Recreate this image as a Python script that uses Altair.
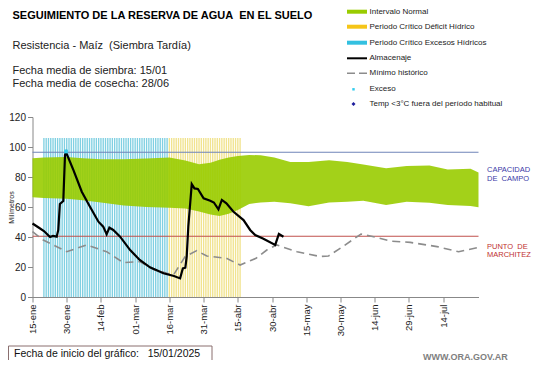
import altair as alt
import pandas as pd

# ---------------- data (x = days since 15/01/2025) ----------------
band_day = [0, 5, 15, 22, 30, 40, 50, 60, 67, 73, 78, 82, 86, 90, 95, 100, 106, 113, 121, 130, 138, 145, 155, 164, 174, 182, 192, 195.5]
band_hi = [92.5, 93, 93.3, 92.5, 91.8, 91.8, 92.3, 93, 91, 88.5, 89.5, 91.5, 93, 94, 94.7, 94.5, 93, 90, 90, 91.2, 90, 88.4, 85.8, 87.3, 87.7, 85, 85.5, 83]
band_lo = [66.5, 66, 65.5, 64.5, 63, 61, 60, 59.5, 59, 57, 55, 54, 55.5, 58, 62, 63, 63.5, 62.5, 60.5, 63, 63.5, 64.2, 61.3, 63.5, 62.9, 61.3, 60.7, 59.8]

alm_day = [0, 3, 5, 7.7, 9, 10.6, 11.3, 12, 13.5, 14.25, 14.7, 17.9, 21.6, 25.2, 28.9, 31, 32.5, 33.7, 35.4,
           38.4, 42.8, 47, 51.5, 57.4, 62, 64.7, 65.9, 67, 67.6, 68.3, 69.8, 71, 72.5, 75, 77.9, 79.5, 81.5,
           83, 85, 88, 92.5, 95.4, 97.6, 101, 106.4, 108, 110]
alm_val = [49, 46, 44, 40, 40.7, 40.2, 44.7, 62, 64, 94.7, 96.5, 84.7, 70.2, 60.2, 50.2, 46.9, 41.8, 46.2, 44.7,
           40.2, 31.3, 24.7, 19.8, 15.8, 14, 12.4, 19, 19.5, 27, 47, 75.3, 72.4, 72, 65.8, 64.2, 63, 58.4,
           64.7, 62.4, 57, 51.3, 44.7, 41.3, 39, 34.7, 42, 40.2]

min_day = [0, 4.7, 15, 23.8, 32.5, 39.8, 47, 53, 59, 61.8, 66.9, 72, 76.4, 85, 91, 95.4, 98, 102.7, 107, 116,
           126, 129.7, 136, 144, 149.5, 156.8, 165.6, 177.3, 186.8, 195.5]
min_val = [43.6, 38, 30.2, 34.7, 30.2, 22.9, 23.6, 18.4, 15.8, 14.7, 27, 30.9, 27.3, 25.8, 21.3, 24.2, 25.8, 31.3,
           34.7, 30.2, 27, 27.3, 33.6, 42, 40.2, 37.3, 36.4, 33.6, 30.2, 33.1]

exceso_day = [14.7]
exceso_val = [97]

periods = ["Excesos", "Deficit"]
period_start = [5, 60]
period_end = [59, 91]
period_color = ["#80d0e2", "#f1e38e"]
period_top = 106

capacidad = 96.5
marchitez = 40.5
x_end = 195.5

tick_days = [0, 15, 30, 45, 60, 75, 90, 105, 120, 135, 150, 165, 180]
tick_labels = ["15-ene", "30-ene", "14-feb", "01-mar", "16-mar", "31-mar", "15-abr",
               "30-abr", "15-may", "30-may", "14-jun", "29-jun", "14-jul"]
y_ticks = [0, 20, 40, 60, 80, 100, 120]

FONT = "Liberation Sans"
NB = "\u00a0"

# ---------------- tables ----------------
band_df = pd.DataFrame({"d": band_day, "hi": band_hi, "lo": band_lo})
alm_df = pd.DataFrame({"d": alm_day, "v": alm_val})
min_df = pd.DataFrame({"d": min_day, "v": min_val})
exc_df = pd.DataFrame({"d": exceso_day, "v": exceso_val})
stripe_rows = []
for name, s, e, c in zip(periods, period_start, period_end, period_color):
    for d in range(s, e + 1):
        stripe_rows.append({"d": d, "p": name, "c": c, "top": period_top})
stripe_df = pd.DataFrame(stripe_rows)
ref_df = pd.DataFrame({"v": [capacidad, marchitez], "c": ["#6f84b8", "#c0504d"], "x0": [0, 0], "x1": [x_end, x_end]})

label_js = "[" + ",".join("'" + t + "'" for t in tick_labels) + "]"

xs = alt.Scale(domain=[0, x_end], nice=False, zero=False)
ys = alt.Scale(domain=[0, 120], nice=False)

x_axis = alt.Axis(values=tick_days, labelExpr=label_js + "[round(datum.value/15)]",
                  labelAngle=270, labelAlign="right", labelBaseline="middle", labelFontSize=9.5,
                  labelFont=FONT, labelColor="#222", labelPadding=2, tickSize=5, tickColor="#888",
                  domainColor="#888", grid=False, title=None, labelOverlap=False, labelBound=False,
                  labelFlush=False)
y_axis = alt.Axis(values=y_ticks, labelFontSize=10, labelFont=FONT, labelColor="#222",
                  tickSize=5, tickColor="#888", domainColor="#888", grid=False, labelPadding=2,
                  labelOverlap=False, labelBound=False, labelFlush=False,
                  title="Milímetros", titleFont=FONT, titleFontSize=7, titleFontWeight="normal",
                  titleAngle=270, titleX=-21.5, titleY=90, titleAlign="center", titleBaseline="middle",
                  titleColor="#222")


def X(field):
    return alt.X(field, scale=xs, axis=x_axis)


def Y(field):
    return alt.Y(field, scale=ys, axis=y_axis)


stripes = alt.Chart(stripe_df).mark_rule(strokeWidth=1.35).encode(
    x=X("d:Q"), y=Y("top:Q"), y2=alt.datum(0), color=alt.Color("c:N", scale=None))

band = alt.Chart(band_df).mark_area(color="#99cc00", opacity=0.9).encode(
    x=X("d:Q"), y=Y("hi:Q"), y2="lo:Q")

refs = alt.Chart(ref_df).mark_rule(strokeWidth=1.2).encode(
    x=X("x0:Q"), x2="x1:Q", y=Y("v:Q"), color=alt.Color("c:N", scale=None))

minimo = alt.Chart(min_df).mark_line(color="#8c8c8c", strokeWidth=1.6, strokeDash=[8, 5]).encode(
    x=X("d:Q"), y=Y("v:Q"))

alm = alt.Chart(alm_df).mark_line(color="#000000", strokeWidth=2.2).encode(
    x=X("d:Q"), y=Y("v:Q"))

exc = alt.Chart(exc_df).mark_point(filled=True, color="#33ccee", size=14, shape="square", opacity=1).encode(
    x=X("d:Q"), y=Y("v:Q"))

one = pd.DataFrame({"a": [0]})


def txt(t, x, y, size=11, color="#111", weight="normal", align="left", baseline="alphabetic", font=FONT):
    return alt.Chart(one).mark_text(text=t, fontSize=size, color=color, fontWeight=weight, align=align,
                                    baseline=baseline, font=font).encode(x=alt.value(x), y=alt.value(y))


def hline(x0, x1, y, color, width, dash=None):
    kw = dict(color=color, strokeWidth=width)
    if dash:
        kw["strokeDash"] = dash
    return alt.Chart(one).mark_rule(**kw).encode(x=alt.value(x0), x2=alt.value(x1), y=alt.value(y))


layers = [stripes, band, refs, minimo, alm, exc]

# titles
layers += [
    txt("SEGUIMIENTO DE LA RESERVA DE AGUA" + NB + NB + "EN EL SUELO", -20, -97.7, 11, "#000", "bold"),
    txt("Resistencia - Maíz" + NB + NB + "(Siembra Tardía)", -20, -67.7, 11, "#222"),
    txt("Fecha media de siembra: 15/01", -20, -43, 11, "#222"),
    txt("Fecha media de cosecha: 28/06", -20, -30.3, 11, "#222"),
]

# legend
leg_y = [-105.3, -90.3, -74.3, -58.7, -43.7, -27.7, -13]
leg_t = ["Intervalo Normal", "Periodo Crítico Déficit Hídrico", "Periodo Crítico Excesos Hídricos",
         "Almacenaje", "Mínimo histórico", "Exceso", "Temp <3°C fuera del período habitual"]
sx0, sx1, tx = 314.5, 334.5, 337
layers += [
    hline(sx0, sx1, leg_y[0], "#99cc00", 4),
    hline(sx0, sx1, leg_y[1], "#f5c518", 4),
    hline(sx0, sx1, leg_y[2], "#33c0e0", 4),
    hline(sx0, sx1, leg_y[3], "#000000", 2),
    hline(sx0, sx1, leg_y[4], "#8c8c8c", 1.6, [8, 4]),
    alt.Chart(one).mark_point(filled=True, shape="square", size=6, color="#33ccee", opacity=1).encode(
        x=alt.value(321), y=alt.value(leg_y[5])),
    alt.Chart(one).mark_point(filled=True, shape="diamond", size=16, color="#1c1c9c", opacity=1).encode(
        x=alt.value(321), y=alt.value(leg_y[6])),
]
for t, y in zip(leg_t, leg_y):
    layers.append(txt(t, tx, y, 8, "#222", baseline="middle"))

# right-side labels
layers += [
    txt("CAPACIDAD", 454.5, 53, 7.5, "#3a3aa8", baseline="middle"),
    txt("DE" + NB + NB + "CAMPO", 454.5, 61.5, 7.5, "#3a3aa8", baseline="middle"),
    txt("PUNTO" + NB + NB + "DE", 454.5, 129.5, 7.5, "#c03030", baseline="middle"),
    txt("MARCHITEZ", 454.5, 138, 7.5, "#c03030", baseline="middle"),
]

# bottom box and site
layers += [
    alt.Chart(one).mark_rect(fill="white", stroke="#8a6f6f", strokeWidth=1).encode(
        x=alt.value(-24), x2=alt.value(179.5), y=alt.value(229), y2=alt.value(244.5)),
    txt("Fecha de inicio del gráfico:" + NB + NB + NB + "15/01/2025", -18.5, 237, 10.5, "#111", baseline="middle"),
    txt("WWW.ORA.GOV.AR", 390.5, 239.5, 9, "#808080", "bold", baseline="middle"),
]

chart = alt.layer(*layers).properties(
    width=446, height=180,
    autosize=alt.AutoSizeParams(type="none"),
    padding={"left": 24.5, "top": 109, "right": 54.5, "bottom": 63},
).configure_view(strokeWidth=0)

chart.save("out.html", embed_options={"renderer": "svg", "actions": False})
